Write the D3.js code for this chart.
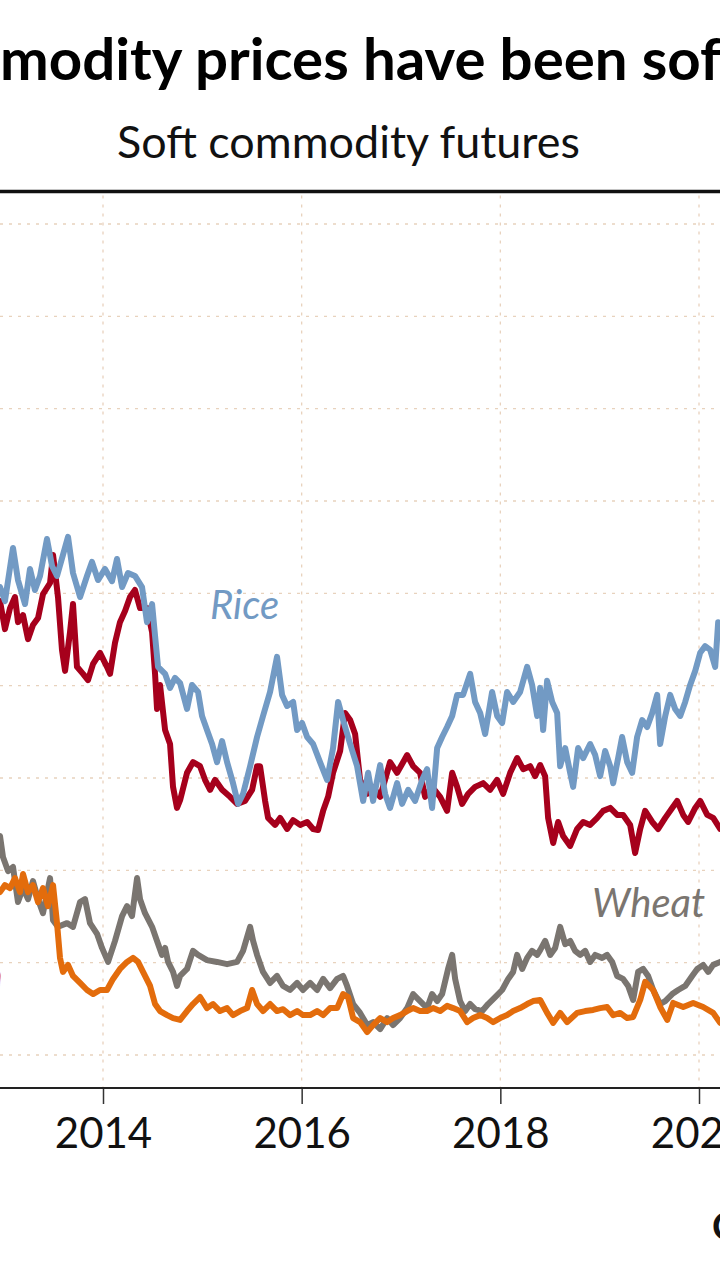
<!DOCTYPE html>
<html><head><meta charset="utf-8">
<script src="https://cdn.jsdelivr.net/npm/d3@7"></script>
<style>html,body{margin:0;padding:0;background:#fff;}svg{display:block;}</style>
</head><body>
<svg id="c" width="720" height="1280"></svg>
<script>
// ---- data (decimal year, price) ----
const riceData = [[2012.963,15.17],[2013.013,14.79],[2013.094,16.23],[2013.144,15.36],[2013.215,14.71],[2013.265,15.66],[2013.315,15.09],[2013.366,15.47],[2013.436,16.47],[2013.487,15.74],[2013.537,15.47],[2013.597,16.04],[2013.648,16.53],[2013.698,15.55],[2013.769,14.90],[2013.839,15.47],[2013.889,15.85],[2013.950,15.36],[2014.020,15.66],[2014.091,15.33],[2014.141,15.93],[2014.192,15.17],[2014.252,15.55],[2014.322,15.47],[2014.393,15.17],[2014.443,14.22],[2014.494,14.71],[2014.524,13.85],[2014.554,13.01],[2014.625,12.82],[2014.675,12.44],[2014.725,12.71],[2014.776,12.57],[2014.846,11.87],[2014.896,12.52],[2014.957,12.33],[2014.997,11.68],[2015.047,11.30],[2015.098,10.92],[2015.148,10.43],[2015.199,11.00],[2015.249,10.43],[2015.309,9.86],[2015.360,9.30],[2015.410,9.57],[2015.481,10.32],[2015.551,11.11],[2015.611,11.68],[2015.682,12.33],[2015.752,13.28],[2015.803,12.25],[2015.853,11.95],[2015.914,12.06],[2015.954,11.30],[2016.004,11.49],[2016.055,11.11],[2016.115,10.92],[2016.185,10.43],[2016.256,9.95],[2016.316,10.81],[2016.367,12.06],[2016.417,11.57],[2016.488,10.92],[2016.558,10.32],[2016.619,9.38],[2016.669,10.14],[2016.719,9.38],[2016.790,10.35],[2016.840,9.57],[2016.890,9.19],[2016.961,9.86],[2017.011,9.30],[2017.072,9.68],[2017.142,9.38],[2017.213,9.95],[2017.263,10.24],[2017.313,9.19],[2017.364,10.81],[2017.414,11.11],[2017.464,11.38],[2017.515,11.68],[2017.565,12.25],[2017.625,12.25],[2017.696,12.82],[2017.746,12.06],[2017.797,11.76],[2017.847,11.19],[2017.917,12.33],[2017.968,11.68],[2018.018,11.49],[2018.068,12.33],[2018.129,12.06],[2018.199,12.33],[2018.270,13.01],[2018.320,12.52],[2018.371,11.68],[2018.401,12.44],[2018.431,11.30],[2018.471,12.63],[2018.522,12.06],[2018.572,11.76],[2018.602,10.32],[2018.653,10.81],[2018.703,10.14],[2018.733,9.76],[2018.783,10.81],[2018.834,10.54],[2018.904,10.92],[2018.955,10.62],[2019.005,10.05],[2019.055,10.73],[2019.106,10.32],[2019.136,9.86],[2019.186,10.54],[2019.226,11.11],[2019.277,10.43],[2019.327,10.14],[2019.377,11.11],[2019.428,11.57],[2019.478,11.38],[2019.529,11.76],[2019.579,12.25],[2019.609,10.92],[2019.660,11.68],[2019.710,12.25],[2019.760,11.87],[2019.811,11.68],[2019.861,12.06],[2019.911,12.52],[2019.962,12.90],[2020.012,13.39],[2020.062,13.57],[2020.113,13.47],[2020.163,13.01],[2020.193,14.22],[2020.213,13.95]];

const soyData = [[2012.963,14.79],[2013.013,14.03],[2013.064,14.60],[2013.114,14.90],[2013.144,14.22],[2013.195,14.41],[2013.245,13.76],[2013.295,14.14],[2013.346,14.33],[2013.396,14.98],[2013.467,15.28],[2013.497,16.04],[2013.547,14.90],[2013.587,13.47],[2013.618,12.90],[2013.668,13.95],[2013.698,14.71],[2013.738,13.01],[2013.799,12.82],[2013.849,12.65],[2013.900,13.09],[2013.970,13.39],[2014.040,13.01],[2014.071,12.82],[2014.121,13.66],[2014.171,14.22],[2014.222,14.52],[2014.272,14.90],[2014.322,15.09],[2014.373,14.60],[2014.443,14.60],[2014.494,13.95],[2014.524,12.82],[2014.544,11.87],[2014.574,12.52],[2014.625,11.30],[2014.675,10.92],[2014.705,9.76],[2014.745,9.19],[2014.776,9.40],[2014.846,10.14],[2014.906,10.43],[2014.977,10.32],[2015.027,9.95],[2015.078,9.68],[2015.128,9.95],[2015.199,9.68],[2015.279,9.49],[2015.350,9.30],[2015.430,9.38],[2015.501,9.68],[2015.551,10.32],[2015.581,10.32],[2015.632,9.38],[2015.662,8.92],[2015.732,8.73],[2015.783,8.92],[2015.853,8.62],[2015.914,8.86],[2015.984,8.73],[2016.055,8.81],[2016.115,8.62],[2016.165,8.59],[2016.216,9.11],[2016.266,9.49],[2016.316,10.14],[2016.387,10.73],[2016.437,11.76],[2016.488,11.57],[2016.538,11.19],[2016.588,9.95],[2016.659,9.57],[2016.719,9.76],[2016.790,9.49],[2016.890,10.43],[2016.961,10.14],[2017.062,10.62],[2017.122,10.32],[2017.192,10.14],[2017.243,9.49],[2017.313,9.76],[2017.394,9.49],[2017.464,9.11],[2017.515,10.14],[2017.565,9.76],[2017.615,9.30],[2017.676,9.57],[2017.746,9.76],[2017.827,9.86],[2017.897,9.68],[2017.968,9.95],[2018.028,9.57],[2018.099,10.14],[2018.169,10.54],[2018.230,10.24],[2018.300,10.32],[2018.350,10.05],[2018.401,10.35],[2018.451,10.05],[2018.481,8.92],[2018.532,8.24],[2018.582,8.81],[2018.632,8.43],[2018.703,8.16],[2018.773,8.62],[2018.834,8.81],[2018.904,8.73],[2018.975,8.92],[2019.035,9.11],[2019.106,9.19],[2019.176,9.00],[2019.236,9.00],[2019.307,8.73],[2019.357,7.97],[2019.408,8.62],[2019.458,9.11],[2019.529,8.81],[2019.589,8.62],[2019.660,8.92],[2019.730,9.19],[2019.780,9.38],[2019.841,9.00],[2019.891,8.81],[2019.962,9.19],[2020.012,9.38],[2020.083,9.00],[2020.143,8.92],[2020.213,8.62]];

const wheatData = [[2012.963,8.43],[2012.993,7.86],[2013.044,7.48],[2013.094,7.59],[2013.144,6.64],[2013.195,7.02],[2013.245,6.72],[2013.295,7.21],[2013.346,6.72],[2013.396,6.34],[2013.467,7.29],[2013.497,6.15],[2013.547,5.97],[2013.638,6.07],[2013.698,5.97],[2013.769,6.64],[2013.819,6.72],[2013.869,6.07],[2013.940,5.78],[2013.990,5.40],[2014.051,5.02],[2014.121,5.59],[2014.192,6.26],[2014.242,6.53],[2014.292,6.26],[2014.343,7.29],[2014.373,6.72],[2014.423,6.34],[2014.494,5.97],[2014.544,5.59],[2014.594,5.21],[2014.625,5.40],[2014.655,5.02],[2014.705,4.75],[2014.745,4.37],[2014.776,4.64],[2014.846,4.83],[2014.906,5.32],[2014.957,5.21],[2015.047,5.07],[2015.148,5.02],[2015.249,4.96],[2015.350,5.02],[2015.410,5.32],[2015.481,5.97],[2015.511,5.59],[2015.551,5.21],[2015.611,4.75],[2015.682,4.45],[2015.752,4.64],[2015.813,4.37],[2015.883,4.26],[2015.954,4.45],[2016.014,4.26],[2016.085,4.45],[2016.155,4.26],[2016.216,4.56],[2016.286,4.31],[2016.357,4.56],[2016.417,4.64],[2016.457,4.37],[2016.518,3.88],[2016.588,3.64],[2016.659,3.31],[2016.719,3.39],[2016.790,3.20],[2016.860,3.50],[2016.920,3.31],[2016.991,3.50],[2017.062,3.77],[2017.122,4.15],[2017.192,3.96],[2017.263,3.77],[2017.313,4.15],[2017.364,3.96],[2017.414,4.15],[2017.474,4.83],[2017.515,5.21],[2017.545,4.56],[2017.595,3.96],[2017.646,3.69],[2017.696,3.88],[2017.746,3.74],[2017.817,3.69],[2017.877,3.88],[2017.948,4.07],[2018.018,4.26],[2018.079,4.56],[2018.129,4.75],[2018.169,5.21],[2018.220,4.83],[2018.270,5.13],[2018.320,5.32],[2018.371,5.21],[2018.401,5.34],[2018.451,5.59],[2018.502,5.21],[2018.552,5.40],[2018.602,5.97],[2018.653,5.50],[2018.703,5.59],[2018.753,5.32],[2018.804,5.21],[2018.854,5.32],[2018.904,5.02],[2018.955,5.21],[2019.025,5.13],[2019.075,5.21],[2019.126,5.02],[2019.176,4.64],[2019.236,4.56],[2019.287,4.37],[2019.337,3.99],[2019.387,4.75],[2019.438,4.83],[2019.488,4.64],[2019.539,4.26],[2019.609,3.88],[2019.660,3.96],[2019.730,4.15],[2019.790,4.26],[2019.861,4.37],[2019.931,4.64],[2019.982,4.83],[2020.042,4.94],[2020.093,4.75],[2020.143,4.94],[2020.213,5.02]];

const cornData = [[2012.963,6.91],[2013.013,7.10],[2013.064,7.02],[2013.114,7.29],[2013.164,6.91],[2013.195,7.40],[2013.245,6.91],[2013.295,7.10],[2013.346,6.64],[2013.396,7.02],[2013.446,6.53],[2013.497,7.10],[2013.537,6.07],[2013.567,5.13],[2013.597,4.75],[2013.648,4.94],[2013.698,4.64],[2013.769,4.45],[2013.839,4.26],[2013.900,4.15],[2013.970,4.26],[2014.040,4.26],[2014.101,4.56],[2014.171,4.83],[2014.242,5.02],[2014.302,5.13],[2014.353,5.02],[2014.403,4.75],[2014.474,4.37],[2014.524,3.88],[2014.574,3.69],[2014.645,3.58],[2014.705,3.50],[2014.776,3.45],[2014.846,3.69],[2014.906,3.88],[2014.977,4.07],[2015.047,3.77],[2015.108,3.88],[2015.178,3.69],[2015.249,3.77],[2015.309,3.58],[2015.380,3.69],[2015.450,3.77],[2015.501,4.26],[2015.551,3.88],[2015.611,3.69],[2015.682,3.88],[2015.752,3.69],[2015.813,3.74],[2015.883,3.58],[2015.954,3.69],[2016.014,3.58],[2016.085,3.58],[2016.155,3.69],[2016.216,3.58],[2016.286,3.77],[2016.357,3.77],[2016.417,4.15],[2016.467,4.07],[2016.518,3.50],[2016.588,3.39],[2016.659,3.12],[2016.719,3.31],[2016.790,3.50],[2016.860,3.39],[2016.920,3.50],[2016.991,3.58],[2017.062,3.69],[2017.122,3.77],[2017.192,3.69],[2017.263,3.69],[2017.323,3.77],[2017.394,3.69],[2017.464,3.83],[2017.525,3.77],[2017.595,3.69],[2017.666,3.39],[2017.726,3.50],[2017.797,3.58],[2017.867,3.50],[2017.927,3.39],[2017.998,3.50],[2018.068,3.58],[2018.129,3.69],[2018.199,3.77],[2018.270,3.88],[2018.330,3.96],[2018.401,3.99],[2018.471,3.64],[2018.532,3.37],[2018.602,3.64],[2018.673,3.39],[2018.773,3.64],[2018.854,3.69],[2018.934,3.72],[2019.005,3.77],[2019.075,3.80],[2019.136,3.58],[2019.206,3.64],[2019.277,3.50],[2019.337,3.53],[2019.408,3.99],[2019.458,4.48],[2019.539,4.26],[2019.609,3.80],[2019.680,3.45],[2019.740,3.91],[2019.841,3.80],[2019.941,3.91],[2020.042,3.80],[2020.143,3.64],[2020.213,3.37]];

const yGridValues = [2.5, 5, 7.5, 10, 12.5, 15, 17.5, 20, 22.5, 25];
const xTickYears = [2014, 2016, 2018, 2020];
const xTickLabels = ["2014", "2016", "2018", "2020"];
const seriesNames = ["Wheat", "Corn", "Soybeans", "Rice"];
const seriesColors = ["#7a7570", "#e36c0c", "#a6001c", "#729ac4"];
const titleText = "Commodity prices have been soft";
const titleHidden = "Com";
const subtitleText = "Soft commodity futures";
const sourceText = "C";

// ---- drawing ----
const W = 720, H = 1280;
const svg = d3.select("#c");
const FONT = "Lato, 'Open Sans', sans-serif";
const x = d3.scaleLinear().domain([2014, 2020]).range([103, 699]);
const y = d3.scaleLinear().domain([2.5, 25]).range([1055, 224]);
const axisY = 1088, topRuleY = 191.5;

function measure(txt, size, weight, style) {
  const t = svg.append("text").attr("font-family", FONT).attr("font-size", size)
    .attr("font-weight", weight || "normal").attr("font-style", style || "normal").text(txt);
  const w = t.node().getComputedTextLength(); t.remove(); return w;
}

// title
const tVisW = measure("modity prices have been so", 100, "bold");
const tSize = 100 * 701 / tVisW;
const preW = measure(titleHidden, tSize, "bold");
svg.append("text").attr("x", -preW).attr("y", 80)
  .attr("font-family", FONT).attr("font-weight", "bold").attr("font-size", tSize)
  .attr("fill", "#000").text(titleText);

// subtitle
const sW = measure(subtitleText, 100, "normal");
const sSize = 100 * 463 / sW;
svg.append("text").attr("x", 117).attr("y", 158)
  .attr("font-family", FONT).attr("font-size", sSize).attr("fill", "#111").text(subtitleText);

// top rule
svg.append("line").attr("x1", 0).attr("x2", W).attr("y1", topRuleY).attr("y2", topRuleY)
  .attr("stroke", "#111").attr("stroke-width", 3.5);

// grid
const grid = svg.append("g").attr("stroke", "#e8d2bd").attr("stroke-width", 1.3).attr("stroke-dasharray", "3,6");
grid.selectAll(".h").data(yGridValues).join("line")
  .attr("x1", 0).attr("x2", W).attr("y1", d => y(d)).attr("y2", d => y(d));
grid.selectAll(".v").data(xTickYears).join("line")
  .attr("x1", d => x(d)).attr("x2", d => x(d)).attr("y1", topRuleY + 4).attr("y2", axisY);

// x axis
const xAxis = d3.axisBottom(x).tickValues(xTickYears).tickSize(16).tickPadding(14)
  .tickFormat((d, i) => xTickLabels[i]);
const ax = svg.append("g").attr("transform", `translate(0,${axisY})`).call(xAxis);
ax.select(".domain").remove();
ax.selectAll(".tick line").attr("stroke", "#333").attr("stroke-width", 1.5);
ax.selectAll(".tick text").attr("font-family", FONT).attr("font-size", 42).attr("fill", "#111");
svg.append("line").attr("x1", 0).attr("x2", W).attr("y1", axisY).attr("y2", axisY)
  .attr("stroke", "#222").attr("stroke-width", 2.2);

// lines
const line = d3.line().x(d => x(d[0])).y(d => y(d[1]));
const allSeries = [wheatData, cornData, soyData, riceData];
svg.append("g").selectAll("path").data(allSeries).join("path")
  .attr("d", line).attr("fill", "none")
  .attr("stroke", (d, i) => seriesColors[i]).attr("stroke-width", 6)
  .attr("stroke-linejoin", "round").attr("stroke-linecap", "round");

// labels
svg.append("text").attr("x", 210).attr("y", 619).attr("font-family", FONT).attr("font-style", "italic")
  .attr("font-size", 40).attr("fill", seriesColors[3]).text(seriesNames[3]);
svg.append("text").attr("x", 592).attr("y", 917).attr("font-family", FONT).attr("font-style", "italic")
  .attr("font-size", 40).attr("fill", seriesColors[0]).text(seriesNames[0]);
svg.append("text").attr("x", 3).attr("y", 991).attr("text-anchor", "end").attr("font-family", FONT)
  .attr("font-style", "italic").attr("font-size", 40).attr("fill", seriesColors[1]).text(seriesNames[1]);

// source (cut off at right edge)
svg.append("text").attr("x", 712).attr("y", 1240).attr("font-family", FONT).attr("font-weight", "bold")
  .attr("font-size", 38).attr("fill", "#111").text(sourceText);
</script>
</body></html>
